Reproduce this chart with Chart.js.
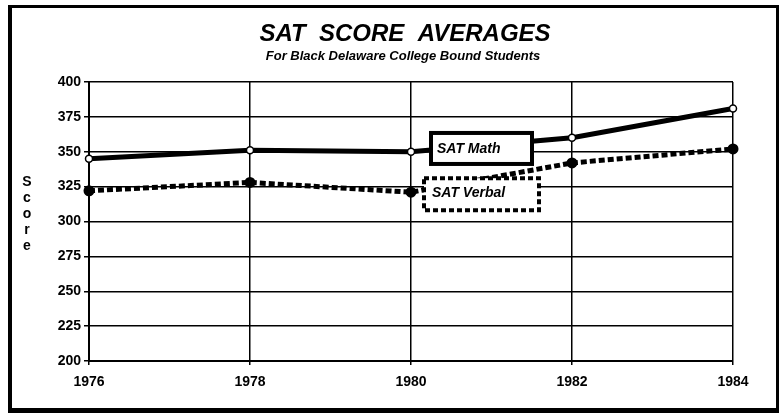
<!DOCTYPE html>
<html>
<head>
<meta charset="utf-8">
<script src="https://cdn.jsdelivr.net/npm/chart.js@4"></script>
<style>
  html, body { margin: 0; padding: 0; background: #fff; }
  #wrap { width: 782px; height: 417px; }
</style>
</head>
<body>
<div id="wrap"><canvas id="myChart" width="782" height="417"></canvas></div>
<script>
// data
const years = ['1976', '1978', '1980', '1982', '1984'];
const mathScores = [345, 351, 350, 360, 381];
const verbalScores = [322, 328, 321, 342, 352];
const yTicks = [200, 225, 250, 275, 300, 325, 350, 375, 400];

const FONT = '"Liberation Sans", Arial, sans-serif';

// frame, titles, axis letters and the two line labels
const decor = {
  id: 'decor',
  beforeDraw(chart) {
    const c = chart.ctx;
    c.save();
    c.fillStyle = '#fff';
    c.fillRect(0, 0, chart.width, chart.height);
    c.fillStyle = '#000';
    // outer frame, heavier on left and bottom
    c.fillRect(8, 5, 771, 3);
    c.fillRect(8, 5, 4, 408);
    c.fillRect(776, 5, 3, 408);
    c.fillRect(8, 408, 771, 5);
    c.restore();
  },
  afterDraw(chart) {
    const c = chart.ctx;
    const x = chart.scales.x, y = chart.scales.y;
    c.save();
    c.fillStyle = '#000';
    c.textAlign = 'center';
    c.textBaseline = 'middle';
    c.font = 'italic bold 24px ' + FONT;
    c.fillText('SAT  SCORE  AVERAGES', 405, 34);
    c.font = 'italic bold 13px ' + FONT;
    c.fillText('For Black Delaware College Bound Students', 403, 56);

    c.font = 'bold 14px ' + FONT;
    'Score'.split('').forEach((ch, i) => c.fillText(ch, 27, 182 + i * 16));

    // SAT Math label box
    const mx = x.getPixelForValue(2) + 20, my = y.getPixelForValue(352);
    c.fillStyle = '#fff';
    c.fillRect(mx, my - 16, 101, 31);
    c.lineWidth = 4;
    c.strokeStyle = '#000';
    c.strokeRect(mx, my - 16, 101, 31);
    c.fillStyle = '#000';
    c.font = 'italic bold 14px ' + FONT;
    c.textAlign = 'left';
    c.fillText('SAT Math', mx + 6, my);

    // SAT Verbal label box, dashed like its line
    const vx = x.getPixelForValue(2) + 13, vy = y.getPixelForValue(321);
    c.fillStyle = '#fff';
    c.fillRect(vx, vy - 14, 115, 32);
    c.setLineDash([5, 3]);
    c.lineWidth = 4;
    c.strokeRect(vx, vy - 14, 115, 32);
    c.setLineDash([]);
    c.fillStyle = '#000';
    c.fillText('SAT Verbal', vx + 8, vy + 1);
    c.restore();
  }
};

const ctx = document.getElementById('myChart');
const myChart = new Chart(ctx, {
  type: 'line',
  data: {
    labels: years,
    datasets: [
      {
        label: 'SAT Math',
        data: mathScores,
        borderColor: '#000',
        borderWidth: 5,
        pointRadius: 3.5,
        pointBackgroundColor: '#fff',
        pointBorderColor: '#000',
        pointBorderWidth: 1.5,
        tension: 0
      },
      {
        label: 'SAT Verbal',
        data: verbalScores,
        borderColor: '#000',
        borderWidth: 5,
        borderDash: [6, 3],
        pointRadius: 3,
        pointBackgroundColor: '#000',
        pointBorderColor: '#000',
        tension: 0
      }
    ]
  },
  options: {
    responsive: false,
    animation: false,
    layout: { padding: { left: 40, right: 49, top: 82, bottom: 26 } },
    plugins: {
      legend: { display: false },
      tooltip: { enabled: false }
    },
    scales: {
      x: {
        offset: false,
        grid: { color: '#000', lineWidth: 1.5, tickLength: 4, drawTicks: true },
        border: { color: '#000', width: 2 },
        ticks: {
          color: '#000',
          padding: 9,
          maxRotation: 0,
          font: { family: FONT, size: 14, weight: 'bold' }
        },
        afterFit(scale) { scale.height = 30; }
      },
      y: {
        min: 200,
        max: 400,
        afterBuildTicks(scale) { scale.ticks = yTicks.map(v => ({ value: v })); },
        grid: { color: '#000', lineWidth: 1.5, tickLength: 5 },
        border: { color: '#000', width: 2 },
        ticks: {
          color: '#000',
          padding: 3,
          font: { family: FONT, size: 14, weight: 'bold' }
        },
        afterFit(scale) { scale.width = 49; }
      }
    }
  },
  plugins: [decor]
});
</script>
</body>
</html>
